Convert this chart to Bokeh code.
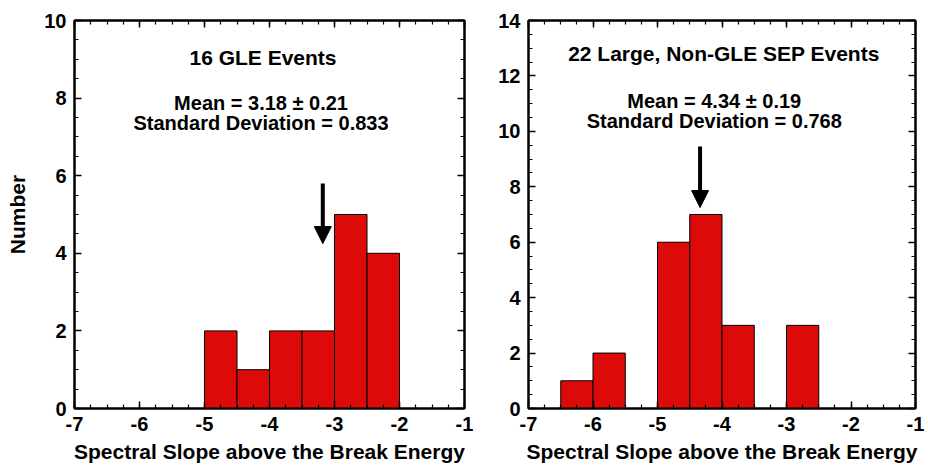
from bokeh.plotting import figure
from bokeh.layouts import row
from bokeh.models import (LinearAxis, SingleIntervalTicker, Arrow, NormalHead, Label,
                          PrintfTickFormatter, CustomJSTickFormatter)
from bokeh.embed import file_html
from bokeh.resources import INLINE

# ---------------- data ----------------
gle_edges = [-5.0, -4.5, -4.0, -3.5, -3.0, -2.5, -2.0]
gle_counts = [2, 1, 2, 2, 5, 4]
gle_mean = -3.18
gle_title = "16 GLE Events"
gle_stats = ["Mean = 3.18 \u00b1 0.21", "Standard Deviation = 0.833"]

sep_edges = [-6.5, -6.0, -5.5, -5.0, -4.5, -4.0, -3.5, -3.0, -2.5]
sep_counts = [1, 2, 0, 6, 7, 3, 0, 3]
sep_mean = -4.34
sep_title = "22 Large, Non-GLE SEP Events"
sep_stats = ["Mean = 4.34 \u00b1 0.19", "Standard Deviation = 0.768"]

x_label = "Spectral Slope above the Break Energy"
y_label = "Number"

FONT = "Liberation Sans"
RED = "#DD0A0A"


def style_axis(ax, major, minor_n, show_labels=True):
    ax.ticker = SingleIntervalTicker(interval=major, num_minor_ticks=minor_n)
    ax.major_tick_in = 7
    ax.major_tick_out = 0
    ax.minor_tick_in = 4
    ax.minor_tick_out = 0
    ax.major_tick_line_width = 1.5
    ax.minor_tick_line_width = 1.2
    ax.major_tick_line_color = "black"
    ax.minor_tick_line_color = "black"
    ax.axis_line_color = "black"
    ax.axis_line_width = 2
    ax.major_label_text_font = FONT
    ax.major_label_text_font_style = "bold"
    ax.major_label_text_font_size = "20px"
    ax.major_label_text_color = "black"
    ax.axis_label_text_font = FONT
    ax.axis_label_text_font_style = "bold"
    ax.axis_label_text_font_size = "21px"
    ax.axis_label_text_color = "black"
    if show_labels:
        ax.formatter = PrintfTickFormatter(format="%d")
    else:
        ax.formatter = CustomJSTickFormatter(code="return '';")
        ax.major_label_standoff = 0


def make_panel(edges, counts, ymax, ymean, title, stats, title_pos, stats_pos,
               arrow_y, left_border, right_border, frame_w, show_ylabel):
    p = figure(output_backend="svg", toolbar_location=None,
               frame_width=frame_w, frame_height=388,
               x_range=(-7, -1), y_range=(0, ymax),
               min_border_left=left_border, min_border_right=right_border,
               min_border_top=20, min_border_bottom=59,
               x_axis_label=x_label,
               y_axis_label=y_label if show_ylabel else None)
    p.xgrid.visible = False
    p.ygrid.visible = False
    p.outline_line_color = "black"
    p.outline_line_width = 2
    p.background_fill_color = "white"
    p.border_fill_color = "white"

    style_axis(p.xaxis[0], 1, 4)
    style_axis(p.yaxis[0], 2, 4)
    p.xaxis[0].major_label_standoff = 8
    p.xaxis[0].axis_label_standoff = 6
    p.yaxis[0].major_label_standoff = 8
    p.yaxis[0].axis_label_standoff = 12

    top_ax = LinearAxis()
    style_axis(top_ax, 1, 4, show_labels=False)
    p.add_layout(top_ax, "above")
    right_ax = LinearAxis()
    style_axis(right_ax, 2, 4, show_labels=False)
    p.add_layout(right_ax, "right")

    p.quad(left=edges[:-1], right=edges[1:], bottom=0, top=counts,
           fill_color=RED, line_color="black", line_width=1)

    p.add_layout(Label(x=title_pos[0], y=title_pos[1], text=title,
                       text_align="center", text_baseline="middle",
                       text_font=FONT, text_font_style="bold",
                       text_font_size="21px", text_color="black"))
    p.add_layout(Label(x=stats_pos[0], y=stats_pos[1], text=stats[0],
                       text_align="center", text_baseline="middle",
                       text_font=FONT, text_font_style="bold",
                       text_font_size="20px", text_color="black"))
    p.add_layout(Label(x=stats_pos[0], y=stats_pos[2], text=stats[1],
                       text_align="center", text_baseline="middle",
                       text_font=FONT, text_font_style="bold",
                       text_font_size="20px", text_color="black"))

    p.add_layout(Arrow(x_start=ymean, y_start=arrow_y[0], x_end=ymean, y_end=arrow_y[1],
                       line_width=4, line_color="black",
                       end=NormalHead(size=17, fill_color="black",
                                      line_color="black", line_width=1)))
    return p


p1 = make_panel(gle_edges, gle_counts, 10, gle_mean, gle_title, gle_stats,
                title_pos=(-4.1, 9.05), stats_pos=(-4.13, 7.87, 7.35),
                arrow_y=(5.8, 4.25), left_border=74, right_border=31,
                frame_w=390, show_ylabel=True)
p2 = make_panel(sep_edges, sep_counts, 14, sep_mean, sep_title, sep_stats,
                title_pos=(-3.97, 12.8), stats_pos=(-4.12, 11.09, 10.37),
                arrow_y=(9.45, 7.25), left_border=32, right_border=14,
                frame_w=387, show_ylabel=False)

layout = row(p1, p2)
open("out.html", "w").write(file_html(layout, INLINE))
